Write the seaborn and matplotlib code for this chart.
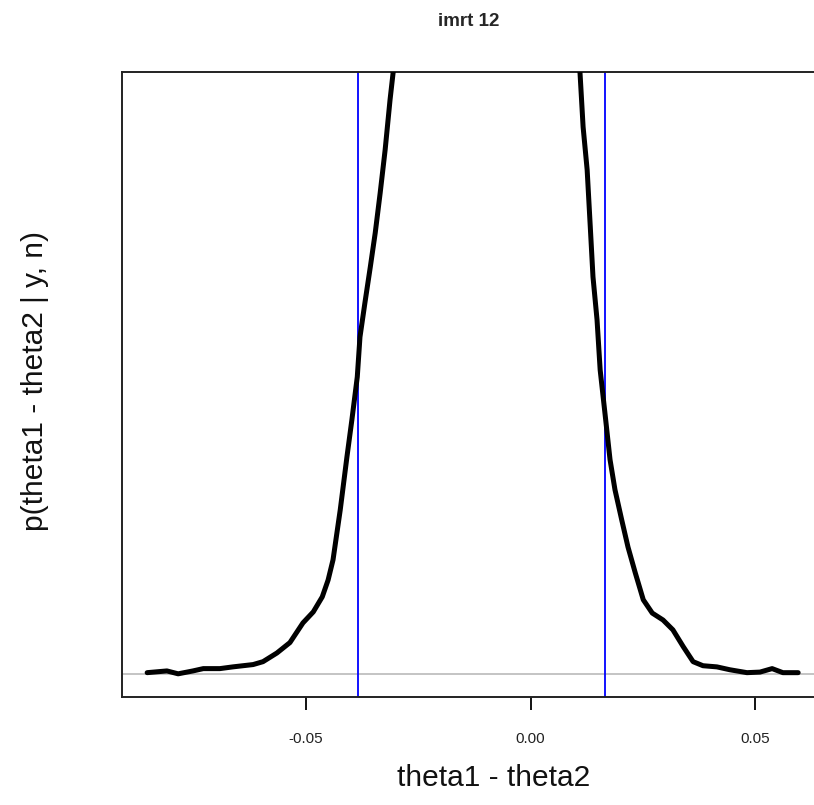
"""posterior density of theta1 - theta2 for imrt 12, redrawn with seaborn"""

import pandas as pd
import seaborn as sns
import matplotlib.pyplot as plt

# density curve (height relative to the y limit)
diff_values = [
    -0.0854, -0.0810, -0.0785, -0.0752, -0.0729, -0.0692, -0.0663, -0.0618,
    -0.0596, -0.0565, -0.0536, -0.0507, -0.0484, -0.0464, -0.0451, -0.0440,
    -0.0424, -0.0409, -0.0398, -0.0386, -0.0380, -0.0369, -0.0357, -0.0346,
    -0.0335, -0.0324, -0.0313, -0.0306,
    -0.0097,
    0.0110, 0.0117, 0.0126, 0.0133, 0.0139, 0.0148, 0.0155, 0.0166,
    0.0177, 0.0188, 0.0203, 0.0217, 0.0233, 0.0251, 0.0271, 0.0295,
    0.0317, 0.0340, 0.0362, 0.0384, 0.0415, 0.0444, 0.0482, 0.0511,
    0.0538, 0.0562, 0.0596,
]
density_values = [
    0.002, 0.005, 0.000, 0.005, 0.009, 0.009, 0.012, 0.016,
    0.021, 0.036, 0.054, 0.088, 0.107, 0.133, 0.162, 0.197,
    0.283, 0.375, 0.439, 0.513, 0.582, 0.641, 0.703, 0.762,
    0.831, 0.905, 0.992, 1.040,
    1.600,
    1.040, 0.945, 0.871, 0.772, 0.686, 0.612, 0.525, 0.448,
    0.370, 0.318, 0.266, 0.219, 0.175, 0.128, 0.105, 0.093,
    0.076, 0.047, 0.021, 0.014, 0.012, 0.007, 0.002, 0.003,
    0.009, 0.002, 0.002,
]
interval_bounds = [-0.0384, 0.0166]
tick_values = [-0.05, 0.0, 0.05]
tick_labels = ["-0.05", "0.00", "0.05"]

sns.set_theme(style="white")
plt.rcParams["font.family"] = ["Liberation Sans", "DejaVu Sans"]

curve = pd.DataFrame({"diff": diff_values, "density": density_values})

fig = plt.figure(figsize=(8.14, 8.05), dpi=100)
ax = fig.add_axes([0.1499, 0.1342, 0.8698, 0.7764])

ax.axhline(0, color="#c4c4c4", lw=1.4, zorder=1)
for bound in interval_bounds:
    ax.axvline(bound, color="#0000ff", lw=1.3, zorder=2)
sns.lineplot(data=curve, x="diff", y="density", sort=False, estimator=None,
             color="black", lw=3.6, ax=ax, zorder=3)

ax.set_xlim(-0.0910, 0.0667)
ax.set_ylim(-0.04, 1.04)
ax.set_xticks(tick_values)
ax.set_xticklabels(tick_labels, fontsize=11)
ax.set_yticks([])
ax.tick_params(axis="x", bottom=True, length=9.5, width=1.3, color="black",
               pad=15.5, labelcolor="#222222")

for side in ["left", "bottom", "top"]:
    ax.spines[side].set_color("#222222")
    ax.spines[side].set_linewidth(1.4)
ax.spines["right"].set_visible(False)

ax.set_xlabel("theta1 - theta2", fontsize=21.5, va="center", color="#111111")
ax.xaxis.set_label_coords(0.525, -0.1296)
ax.set_ylabel("p(theta1 - theta2 | y, n)", fontsize=21.5, va="center", color="#111111")
ax.yaxis.set_label_coords(-0.123, 0.505)
ax.set_title("imrt 12", fontsize=13.5, fontweight="bold", x=0.489, y=1.067, va="center")

fig.savefig("out.png", dpi=100)
plt.close(fig)
